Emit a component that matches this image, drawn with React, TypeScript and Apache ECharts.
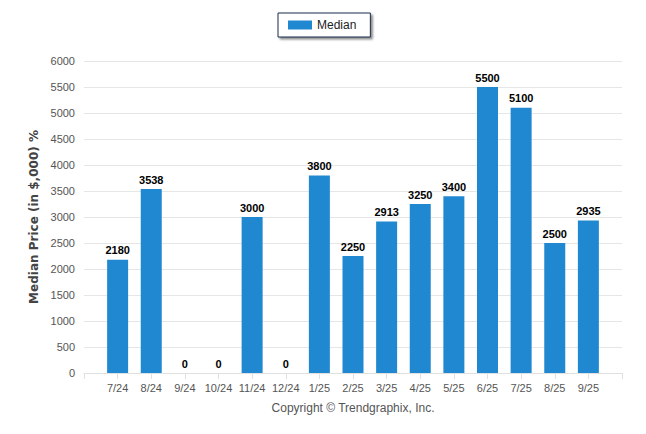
import React, { useEffect, useRef } from "react";
import * as echarts from "echarts";

const categories = ["7/24", "8/24", "9/24", "10/24", "11/24", "12/24", "1/25", "2/25", "3/25", "4/25", "5/25", "6/25", "7/25", "8/25", "9/25"];
const medianValues = [2180, 3538, 0, 0, 3000, 0, 3800, 2250, 2913, 3250, 3400, 5500, 5100, 2500, 2935];
const yTicks = { min: 0, max: 6000, interval: 500 };

export default function App() {
  const ref = useRef<HTMLDivElement>(null);
  useEffect(() => {
    if (!ref.current) return;
    const chart = echarts.init(ref.current, undefined, { renderer: "svg" });
    const font = "'Liberation Sans', Arial, sans-serif";
    const boldFont = "'DejaVu Sans', sans-serif";
    chart.setOption({
      animation: false,
      textStyle: { fontFamily: font },
      legend: {
        data: ["Median"],
        left: 278,
        top: 13,
        itemWidth: 24,
        itemHeight: 9,
        itemGap: 5,
        padding: [6, 14, 6, 10],
        borderColor: "#1c2b4a",
        borderWidth: 1,
        backgroundColor: "#fff",
        shadowColor: "rgba(0,0,0,0.45)",
        shadowBlur: 2,
        shadowOffsetX: 2,
        shadowOffsetY: 2,
        textStyle: { fontSize: 12, color: "#222", fontFamily: font },
        icon: "rect",
      },
      grid: { left: 84, right: 24, top: 61, bottom: 61 },
      xAxis: {
        type: "value",
        min: -1,
        max: 15,
        interval: 1,
        splitLine: { show: false },
        axisLine: { show: true, lineStyle: { color: "#e0e0e0" } },
        axisTick: { show: true, length: 6, lineStyle: { color: "#e0e0e0" } },
        axisLabel: {
          fontSize: 11,
          color: "#555",
          margin: 9,
          fontFamily: font,
          formatter: (v: number) => (v >= 0 && v < categories.length ? categories[v] : ""),
        },
      },
      yAxis: {
        type: "value",
        min: yTicks.min,
        max: yTicks.max,
        interval: yTicks.interval,
        name: "Median Price (in $,000) %",
        nameLocation: "middle",
        nameGap: 34,
        nameTextStyle: { fontSize: 12, fontWeight: "bold", color: "#444", fontFamily: boldFont },
        axisLine: { show: false },
        axisTick: { show: false },
        splitLine: { lineStyle: { color: "#e6e6e6" } },
        axisLabel: { fontSize: 11, color: "#555", margin: 9, fontFamily: font, formatter: (v: number) => String(v) },
      },
      series: [
        {
          name: "Median",
          type: "bar",
          barWidth: 21,
          itemStyle: { color: "#1f88d0" },
          data: medianValues.map((v, i) => [i, v]),
          label: {
            show: true,
            position: "top",
            distance: 4,
            fontSize: 11,
            fontWeight: "bold",
            color: "#000",
            fontFamily: font,
            formatter: (p: any) => String(p.value[1]),
          },
        },
      ],
      graphic: [
        {
          type: "text",
          x: 353,
          y: 408,
          style: {
            text: "Copyright © Trendgraphix, Inc.",
            fill: "#555",
            font: `12px ${font}`,
            textAlign: "center",
            textVerticalAlign: "middle",
          },
        },
      ],
    });
    return () => chart.dispose();
  }, []);
  return <div ref={ref} style={{ width: 646, height: 434, position: "absolute", left: 0, top: 0 }} />;
}
